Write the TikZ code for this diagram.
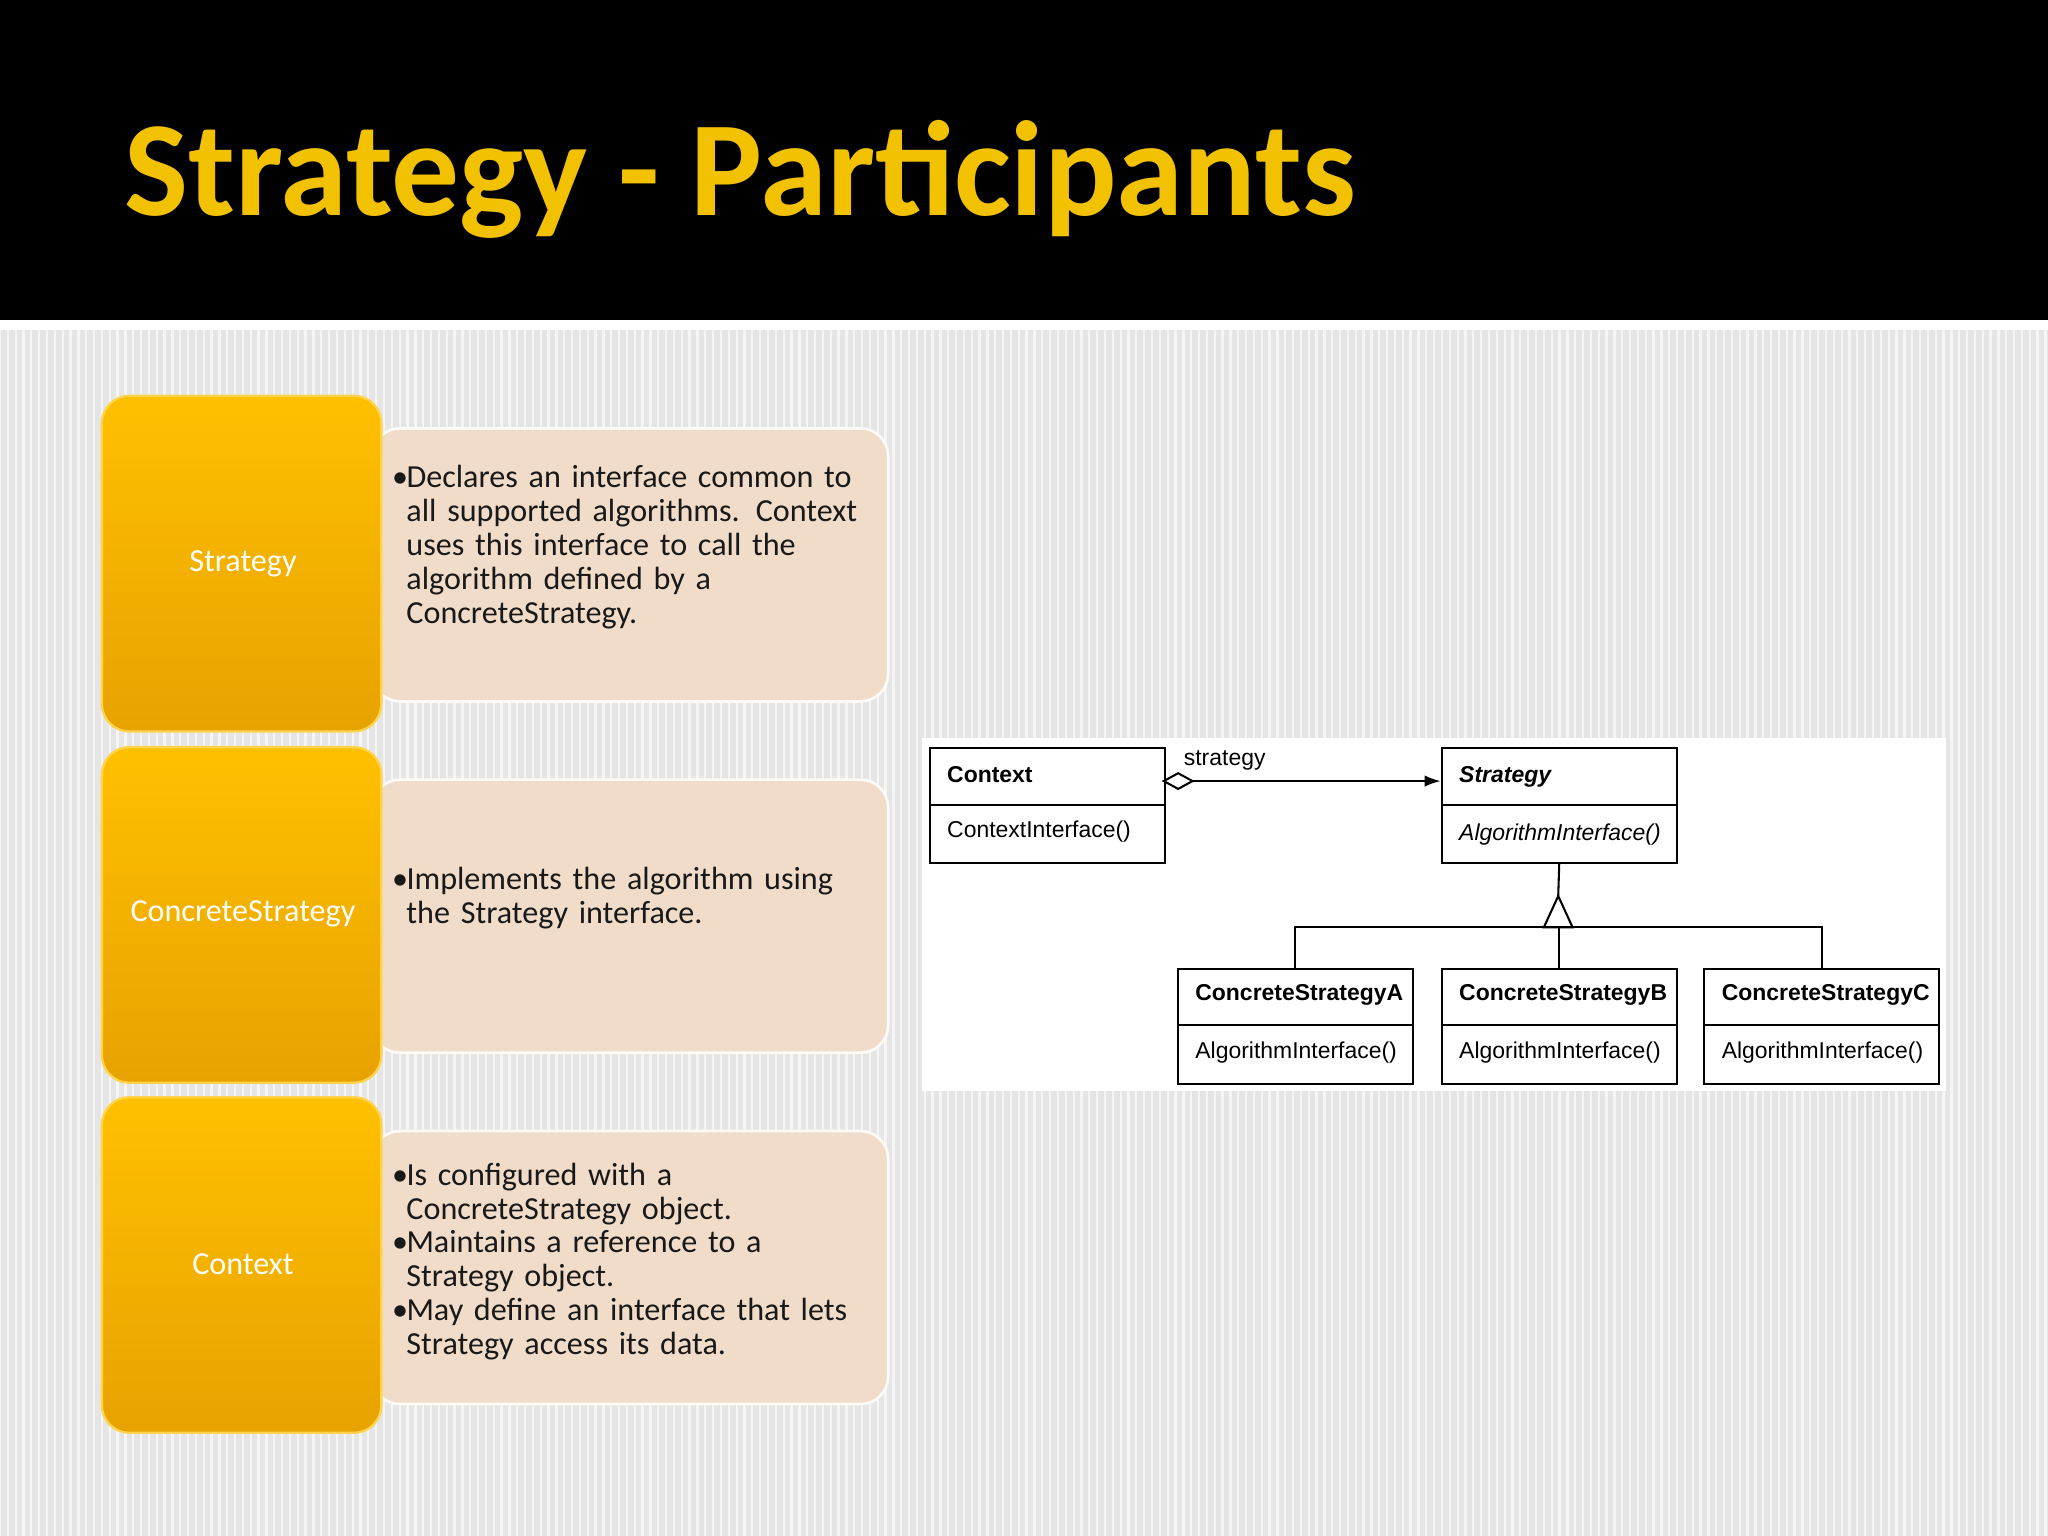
\documentclass[tikz,border=0pt]{standalone}
\usepackage{fontspec}
\setmainfont{Carlito}
\newfontfamily\uml{Liberation Sans}
\usetikzlibrary{arrows.meta,shapes.geometric}
\definecolor{gold}{HTML}{FFC000}
\definecolor{goldd}{HTML}{E8A200}
\definecolor{beige}{HTML}{F0DCC8}
\definecolor{titley}{HTML}{F2C200}
\tikzset{
 lbox/.style={rounded corners=12pt, top color=gold, bottom color=goldd, draw=gold!70!white, line width=1pt},
 rbox/.style={rounded corners=12pt, fill=beige, draw=white!85!beige, line width=1.2pt},
 lab/.style={text=white, font=\fontsize{14}{16}\selectfont},
 body/.style={anchor=north west, align=left, text width=7.3cm, font=\fontsize{14}{14.8}\selectfont, text=black!90},
 cls/.style={draw, line width=0.9pt, minimum width=3.6cm, minimum height=1.76cm, anchor=north west, inner sep=0pt},
 ct/.style={font=\uml\fontsize{10}{12}\selectfont, anchor=west},
}
\newcommand{\bul}[1]{\raggedright\hangindent=0.22cm\hangafter=1 \makebox[0.22cm][l]{•}#1\par}
\begin{document}
\begin{tikzpicture}[x=0.02cm,y=-0.02cm]
\useasboundingbox (0,0) rectangle (1568,1176);
\fill[black] (0,0) rectangle (1568,245);
\fill[white] (0,245) rectangle (1568,253);
\fill[black!10] (0,253) rectangle (1568,1176);
\foreach \i in {0,6,...,1566} \draw[white!60!black!10, line width=1pt] (\i,253) -- (\i,1176);
\node[anchor=base west, inner sep=0pt, text=titley, font=\bfseries\fontsize{59}{64}\selectfont] (title) at (95,165) {Strategy - Participants};
% rows
\foreach \n/\t/\b in {s/303/328, c/572/597, x/840/866}{
  \draw[rbox] (285,\b) rectangle (680,\b+209);
  \draw[lbox] (78,\t) rectangle (292,\t+257);
}
\node[lab] (ls) at (186,432) {Strategy};
\node[lab] (lc) at (186,700) {ConcreteStrategy};
\node[lab] (lx) at (186,968) {Context};
\node[body] (bs) at (294,350) {\bul{Declares an interface common to all supported algorithms. Context uses this interface to call the algorithm defined by a ConcreteStrategy.}};
\node[body] (bc) at (294,658) {\bul{Implements the algorithm using the Strategy interface.}};
\node[body] (bx) at (294,884) {\bul{Is configured with a ConcreteStrategy object.}\bul{Maintains a reference to a Strategy object.}\bul{May define an interface that lets Strategy access its data.}};
% UML
\fill[white] (706,565) rectangle (1490,835);
\node[cls] (ctx) at (711,572) {};
\node[cls] (str) at (1103,572) {};
\node[cls] (ca) at (901,741) {};
\node[cls] (cb) at (1103,741) {};
\node[cls] (cc) at (1304,741) {};
\foreach \c in {ctx,str,ca,cb,cc} \draw[line width=0.9pt] ([yshift=-0.88cm]\c.north west) -- ([yshift=-0.88cm]\c.north east);
\node[ct, font=\uml\bfseries\fontsize{10}{12}\selectfont] at (719,593) {Context};
\node[ct] at (719,637) {ContextInterface()};
\node[ct, font=\uml\bfseries\itshape\fontsize{10}{12}\selectfont] at (1111,595) {Strategy};
\node[ct, font=\uml\itshape\fontsize{10}{12}\selectfont] at (1111,639) {AlgorithmInterface()};
\foreach \c/\x/\L in {ca/909/A,cb/1111/B,cc/1312/C}{
 \node[ct, font=\uml\bfseries\fontsize{10}{12}\selectfont] at (\x,762) {ConcreteStrategy\L};
 \node[ct] at (\x,806) {AlgorithmInterface()};
}
\coordinate (agg) at (891,598);
\coordinate (ah) at (1103,598);
\draw[line width=0.9pt, -{Latex[length=7pt,width=5pt]}] (agg) -- node[pos=0.22, above=1pt, font=\uml\fontsize{10}{12}\selectfont]{strategy} (ah);
\draw[line width=0.9pt, fill=white] (891,598) -- (902,592) -- (913,598) -- (902,604) -- cycle;
\coordinate (tip) at (1193,686);
\coordinate (bl) at (1182,710);
\coordinate (br) at (1204,710);
\draw[line width=0.9pt] (str.south) -- (tip);
\draw[line width=0.9pt, fill=white] (tip) -- (bl) -- (br) -- cycle;
\draw[line width=0.9pt] (ca.north) |- (cc.north |- 0,710) -- (cc.north);
\draw[line width=0.9pt] (cb.north |- 0,710) -- (cb.north);
\end{tikzpicture}
\end{document}
